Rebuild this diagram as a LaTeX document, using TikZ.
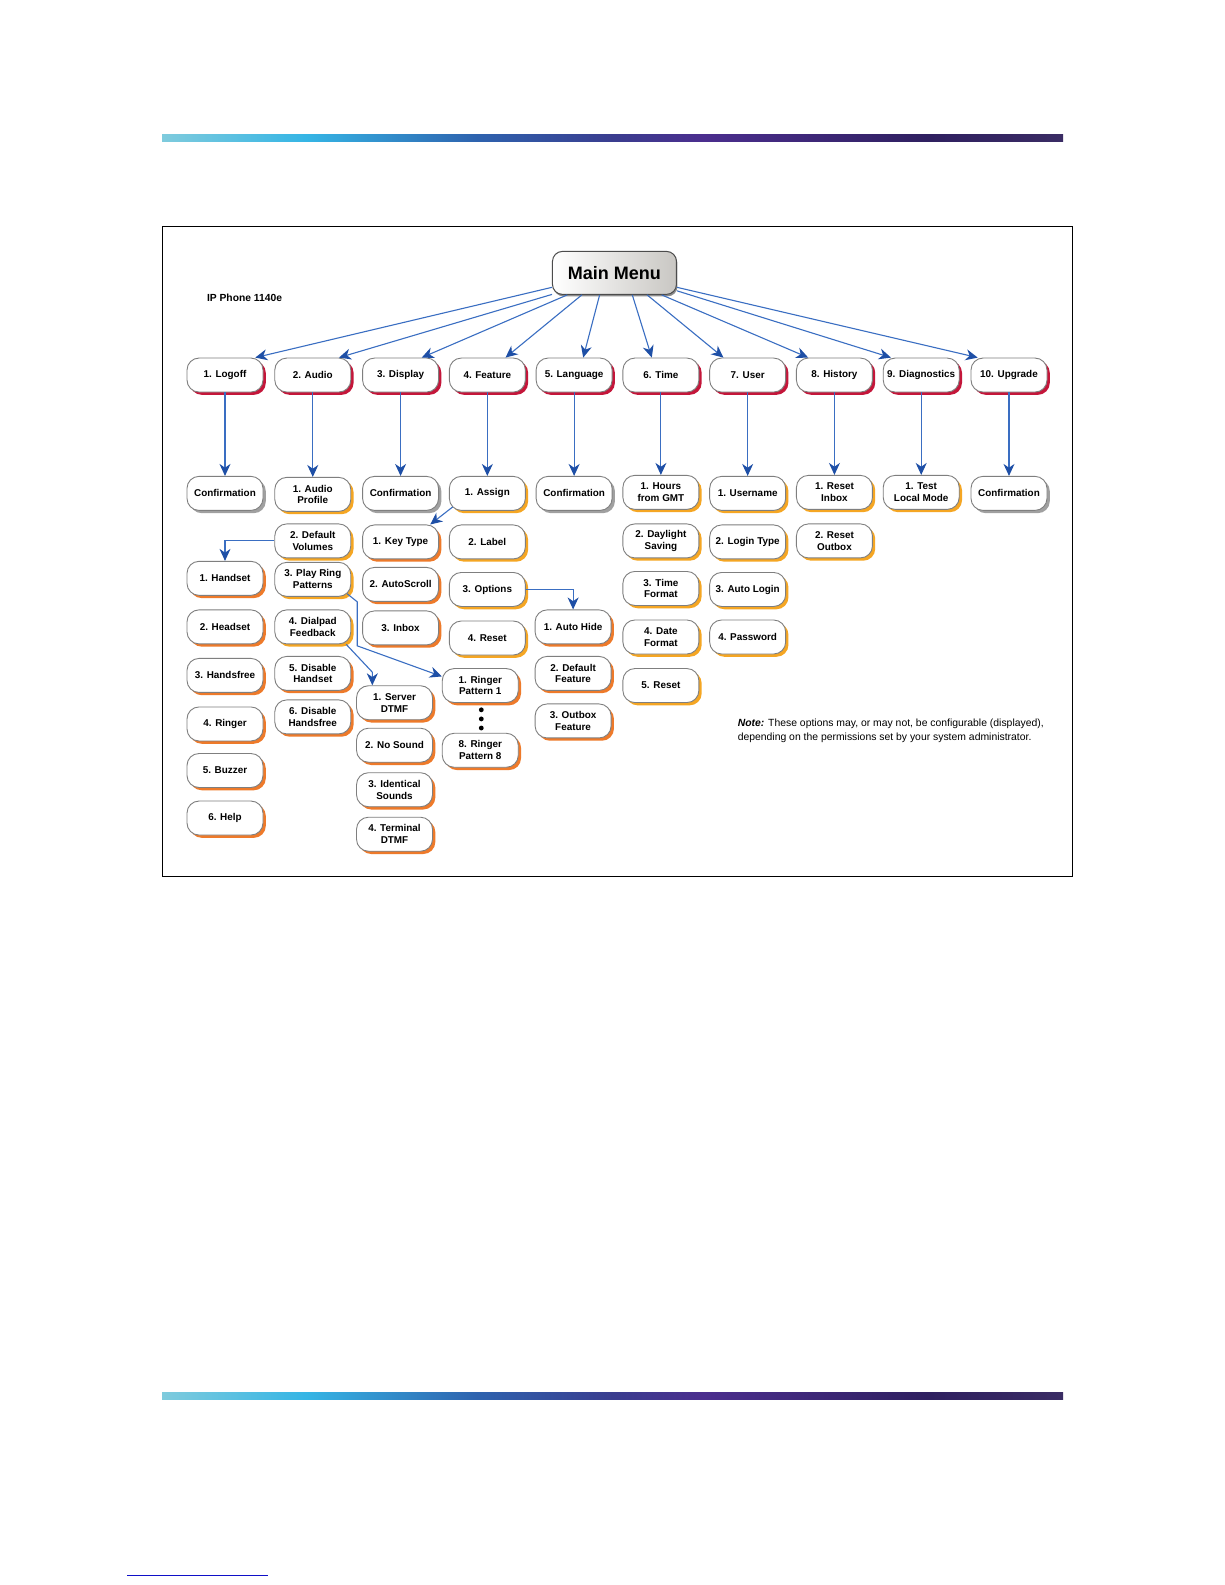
\documentclass[tikz,border=0pt]{standalone}
\usepackage{fontspec}
\setmainfont{Liberation Sans}
\usetikzlibrary{shadows,arrows.meta,calc}
\definecolor{lnblue}{HTML}{3A6EC2}
\definecolor{tipblue}{HTML}{1E4FA6}
\definecolor{shred}{HTML}{C4163A}
\definecolor{shgold}{HTML}{F5A623}
\definecolor{shorange}{HTML}{EE7A2A}
\definecolor{shgray}{HTML}{A0A0A0}
\definecolor{bordergray}{HTML}{7F7F7F}
\definecolor{menugray}{HTML}{C9C7C3}
\definecolor{linkblue}{HTML}{1010C8}
\definecolor{barA}{HTML}{7FCBDD}
\definecolor{barB}{HTML}{35B5E5}
\definecolor{barC}{HTML}{2E62AE}
\definecolor{barD}{HTML}{3A3D8F}
\definecolor{barE}{HTML}{4B2E8E}
\definecolor{barF}{HTML}{2F2060}
\definecolor{barG}{HTML}{3A2C64}
\pgfdeclarehorizontalshading{barshade}{100bp}{color(0bp)=(barA); color(25bp)=(barA); color(33bp)=(barB); color(42.5bp)=(barC); color(50bp)=(barD); color(55bp)=(barE); color(67.5bp)=(barF); color(75bp)=(barG); color(100bp)=(barG)}
\tikzset{
  box/.style={draw=bordergray, line width=0.9pt, fill=white, rounded corners=12pt,
    minimum width=76pt, minimum height=34pt, inner sep=1pt, align=center,
    font=\fontsize{9.9}{11.8}\selectfont\bfseries},
  redbox/.style={box, drop shadow={shadow xshift=2.8pt, shadow yshift=-2.8pt, fill=shred, opacity=1}},
  goldbox/.style={box, drop shadow={shadow xshift=2.8pt, shadow yshift=-2.8pt, fill=shgold, opacity=1}},
  orbox/.style={box, drop shadow={shadow xshift=2.8pt, shadow yshift=-2.8pt, fill=shorange, opacity=1}},
  graybox/.style={box, drop shadow={shadow xshift=2.8pt, shadow yshift=-2.8pt, fill=shgray, opacity=1}},
  menubox/.style={draw=black!70, line width=1pt, left color=white, right color=menugray,
    rounded corners=10pt, minimum width=124pt, minimum height=43pt, inner sep=1pt,
    font=\fontsize{18}{20}\selectfont\bfseries,
    drop shadow={shadow xshift=1pt, shadow yshift=-2pt, fill=black!45, opacity=1}},
  arr/.style={draw=lnblue, line width=1.1pt, -{Stealth[length=12pt,width=11pt,inset=3.8pt,color=tipblue]}},
}
\begin{document}
\begin{tikzpicture}[x=1pt,y=-1pt]
\useasboundingbox (0,0) rectangle (1225,1585);
\fill[white] (0,0) rectangle (1225,1585);
\shade[shading=barshade] (162,134) rectangle (1063,141);
\shade[shading=barshade] (162,1392) rectangle (1063,1399);
\draw[linkblue, line width=1pt] (127,1575) -- (268,1575);
\begin{scope}[shift={(1,-1.2)},x=1.009pt,y=-1.0114pt]
\draw[black, line width=1.1pt] (160,225) rectangle (1062,868);
\node[anchor=west, inner sep=0pt, font=\fontsize{10.3}{12}\selectfont\bfseries] (title) at (204,296) {IP Phone 1140e};
\node[menubox] (main) at (608,271) {Main Menu};
% level 1
\node[redbox] (l1) at (222,372) {1. Logoff};
\node[redbox] (l2) at (309,372) {2. Audio};
\node[redbox] (l3) at (396,372) {3. Display};
\node[redbox] (l4) at (482,372) {4. Feature};
\node[redbox] (l5) at (568,372) {5. Language};
\node[redbox] (l6) at (654,372) {6. Time};
\node[redbox] (l7) at (740,372) {7. User};
\node[redbox] (l8) at (826,372) {8. History};
\node[redbox] (l9) at (912,372) {9. Diagnostics};
\node[redbox] (l10) at (999,372) {10. Upgrade};
% level 2 first row
\node[graybox] (c1) at (222,489) {Confirmation};
\node[goldbox] (ap) at (309,490) {1. Audio\\Profile};
\node[graybox] (c3) at (396,489) {Confirmation};
\node[goldbox] (asg) at (482,489) {1. Assign};
\node[graybox] (c5) at (568,489) {Confirmation};
\node[goldbox] (hg) at (654,488) {1. Hours\\from GMT};
\node[goldbox] (un) at (740,489) {1. Username};
\node[goldbox] (ri) at (826,488) {1. Reset\\Inbox};
\node[goldbox] (tl) at (912,488) {1. Test\\Local Mode};
\node[graybox] (c10) at (999,489) {Confirmation};
% audio column
\node[goldbox] (dv) at (309,536) {2. Default\\Volumes};
\node[goldbox] (prp) at (309,574) {3. Play Ring\\Patterns};
\node[goldbox] (dp) at (309,621) {4. Dialpad\\Feedback};
\node[orbox] (dh) at (309,667) {5. Disable\\Handset};
\node[orbox] (dhf) at (309,710) {6. Disable\\Handsfree};
% logoff-side column
\node[orbox] (hs) at (222,573) {1. Handset};
\node[orbox] (hd) at (222,621) {2. Headset};
\node[orbox] (hf) at (222,669) {3. Handsfree};
\node[orbox] (rg) at (222,717) {4. Ringer};
\node[orbox] (bz) at (222,763) {5. Buzzer};
\node[orbox] (hp) at (222,810) {6. Help};
% display column
\node[orbox] (kt) at (396,537) {1. Key Type};
\node[orbox] (ac) at (396,579) {2. AutoScroll};
\node[orbox] (ib) at (396,622) {3. Inbox};
% feature column
\node[goldbox] (lb) at (482,537) {2. Label};
\node[goldbox] (op) at (482,584) {3. Options};
\node[goldbox] (rs) at (482,632) {4. Reset};
% dialpad feedback children
\node[orbox] (sd) at (390,696) {1. Server\\DTMF};
\node[orbox] (ns) at (390,738) {2. No Sound};
\node[orbox] (is) at (390,782) {3. Identical\\Sounds};
\node[orbox] (td) at (390,826) {4. Terminal\\DTMF};
% ringer patterns
\node[orbox] (rp1) at (475,679) {1. Ringer\\Pattern 1};
\node[orbox] (rp8) at (475,743) {8. Ringer\\Pattern 8};
\fill[black] (476,703) circle (2.4) (476,712) circle (2.4) (476,721) circle (2.4);
% options children
\node[orbox] (ah) at (567,621) {1. Auto Hide};
\node[orbox] (df) at (567,667) {2. Default\\Feature};
\node[orbox] (of) at (567,714) {3. Outbox\\Feature};
% time column
\node[goldbox] (ds) at (654,536) {2. Daylight\\Saving};
\node[goldbox] (tf) at (654,583) {3. Time\\Format};
\node[goldbox] (dtf) at (654,631) {4. Date\\Format};
\node[goldbox] (trs) at (654,679) {5. Reset};
% user column
\node[goldbox] (lt) at (740,537) {2. Login Type};
\node[goldbox] (al) at (740,584) {3. Auto Login};
\node[goldbox] (pw) at (740,631) {4. Password};
% history column
\node[goldbox] (ro) at (826,536) {2. Reset\\Outbox};
% note
\node[anchor=west, align=left, inner sep=0pt, font=\fontsize{10.4}{14}\selectfont] (note) at (730,724)
  {\textbf{\textit{Note:}} These options may, or may not, be configurable (displayed),\\depending on the permissions set by your system administrator.};
% connectors from main menu
\draw[arr] (main.193) -- ($(l1.north)+(30,0)$);
\draw[arr] (main.199) -- ($(l2.north)+(26,0)$);
\draw[arr] (main.205) -- ($(l3.north)+(21,0)$);
\draw[arr] (main.214) -- ($(l4.north)+(18,0)$);
\draw[arr] (main.236) -- ($(l5.north)+(9,0)$);
\draw[arr] (main.309) -- ($(l6.north)+(-9,0)$);
\draw[arr] (main.326) -- ($(l7.north)+(-24,0)$);
\draw[arr] (main.335) -- ($(l8.north)+(-26,0)$);
\draw[arr] (main.344) -- ($(l9.north)+(-30,0)$);
\draw[arr] (main.347) -- ($(l10.north)+(-31,0)$);
% vertical connectors
\draw[arr] (l1.south) -- (c1.north);
\draw[arr] (l2.south) -- (ap.north);
\draw[arr] (l3.south) -- (c3.north);
\draw[arr] (l4.south) -- (asg.north);
\draw[arr] (l5.south) -- (c5.north);
\draw[arr] (l6.south) -- (hg.north);
\draw[arr] (l7.south) -- (un.north);
\draw[arr] (l8.south) -- (ri.north);
\draw[arr] (l9.south) -- (tl.north);
\draw[arr] (l10.south) -- (c10.north);
% other connectors
\draw[arr] ($(asg.south west)+(3.7,-3.8)$) -- ($(kt.north east)+(-8.7,0)$);
\draw[arr] (dv.west) -| (hs.north);
\draw[arr] ($(prp.south east)+(-4,-3)$) -- ++(10,8) -- ++(0,43.5) -- ($(rp1.west)+(0,-9)$);
\draw[arr] ($(dp.south east)+(-5,0)$) -- ($(sd.north)+(-22,-13)$) -- ($(sd.north)+(-22,0)$);
\draw[arr] (op.east) -| (ah.north);
\end{scope}
\end{tikzpicture}
\end{document}
